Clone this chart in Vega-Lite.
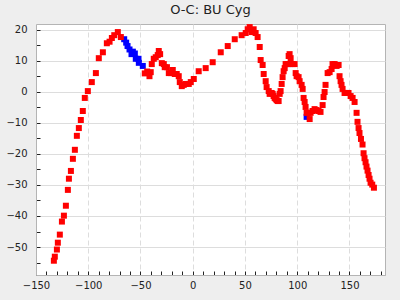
{
  "$schema": "https://vega.github.io/schema/vega-lite/v6.json",
  "autosize": "none",
  "width": 349,
  "height": 251,
  "padding": {"left": 36, "top": 24, "right": 15, "bottom": 25},
  "background": "#eeeeee",
  "title": {"text": "O-C: BU Cyg", "font": "DejaVu Sans", "fontSize": 13, "fontWeight": "normal", "color": "#222222", "offset": 7},
  "config": {
    "view": {"fill": "white", "stroke": "#b4b4b4", "strokeWidth": 1},
    "axis": {"labelFont": "DejaVu Sans", "labelFontSize": 10, "labelColor": "#222222", "domainColor": "#b4b4b4", "tickColor": "#222222", "tickSize": -4, "labelFlush": false, "labelBound": false, "labelOverlap": false, "title": null}
  },
  "data": {"values": [
    {"x": -65.6, "y": 16.9, "c": "b"}, {"x": -63.7, "y": 15.8, "c": "b"}, {"x": -62.4, "y": 14.7, "c": "b"}, {"x": -60.5, "y": 13.6, "c": "b"}, {"x": -58.6, "y": 12.1, "c": "b"}, {"x": -57.3, "y": 12.9, "c": "b"}, {"x": -55.4, "y": 12.3, "c": "b"}, {"x": -54.5, "y": 10.6, "c": "b"}, {"x": -51.9, "y": 10.6, "c": "b"}, {"x": -51.6, "y": 9.3, "c": "b"}, {"x": -47.8, "y": 8.3, "c": "b"}, {"x": 92.7, "y": 8.9, "c": "b"}, {"x": 109.0, "y": -8.1, "c": "b"},
    {"x": -132.9, "y": -54.4, "c": "r"}, {"x": -132.0, "y": -53.1, "c": "r"}, {"x": -130.0, "y": -50.8, "c": "r"}, {"x": -129.1, "y": -48.6, "c": "r"}, {"x": -127.2, "y": -46.0, "c": "r"}, {"x": -125.2, "y": -41.8, "c": "r"}, {"x": -123.3, "y": -39.9, "c": "r"}, {"x": -121.4, "y": -36.7, "c": "r"}, {"x": -119.5, "y": -31.6, "c": "r"}, {"x": -118.5, "y": -28.0, "c": "r"}, {"x": -116.6, "y": -25.5, "c": "r"}, {"x": -114.7, "y": -21.6, "c": "r"}, {"x": -112.8, "y": -18.7, "c": "r"}, {"x": -110.9, "y": -14.2, "c": "r"}, {"x": -109.0, "y": -11.7, "c": "r"}, {"x": -107.1, "y": -9.1, "c": "r"}, {"x": -105.2, "y": -6.2, "c": "r"}, {"x": -103.3, "y": -2.0, "c": "r"}, {"x": -100.4, "y": 0.2, "c": "r"}, {"x": -96.6, "y": 3.1, "c": "r"}, {"x": -92.7, "y": 6.0, "c": "r"}, {"x": -89.9, "y": 10.8, "c": "r"}, {"x": -86.0, "y": 12.7, "c": "r"}, {"x": -82.2, "y": 15.6, "c": "r"}, {"x": -79.6, "y": 16.1, "c": "r"}, {"x": -77.4, "y": 17.3, "c": "r"}, {"x": -75.1, "y": 18.2, "c": "r"}, {"x": -71.7, "y": 19.2, "c": "r"}, {"x": -68.8, "y": 17.6, "c": "r"},
    {"x": -45.9, "y": 5.9, "c": "r"}, {"x": -43.6, "y": 6.5, "c": "r"}, {"x": -41.4, "y": 5.0, "c": "r"}, {"x": -40.2, "y": 6.3, "c": "r"}, {"x": -39.2, "y": 8.9, "c": "r"}, {"x": -37.3, "y": 10.6, "c": "r"}, {"x": -35.4, "y": 11.1, "c": "r"}, {"x": -33.5, "y": 11.8, "c": "r"}, {"x": -32.5, "y": 13.1, "c": "r"}, {"x": -31.2, "y": 12.1, "c": "r"}, {"x": -29.6, "y": 9.2, "c": "r"}, {"x": -27.7, "y": 8.9, "c": "r"}, {"x": -26.8, "y": 7.9, "c": "r"}, {"x": -24.7, "y": 7.9, "c": "r"}, {"x": -22.9, "y": 6.0, "c": "r"}, {"x": -21.0, "y": 6.0, "c": "r"}, {"x": -19.1, "y": 7.0, "c": "r"}, {"x": -17.2, "y": 5.7, "c": "r"}, {"x": -15.3, "y": 5.7, "c": "r"}, {"x": -13.4, "y": 5.0, "c": "r"}, {"x": -12.4, "y": 3.1, "c": "r"}, {"x": -10.5, "y": 1.8, "c": "r"}, {"x": -8.6, "y": 2.2, "c": "r"}, {"x": -6.7, "y": 2.5, "c": "r"}, {"x": -3.8, "y": 2.5, "c": "r"}, {"x": -1.9, "y": 3.1, "c": "r"}, {"x": 1.0, "y": 4.1, "c": "r"}, {"x": 5.7, "y": 6.6, "c": "r"}, {"x": 12.4, "y": 7.6, "c": "r"}, {"x": 19.1, "y": 9.5, "c": "r"}, {"x": 26.8, "y": 12.7, "c": "r"}, {"x": 33.5, "y": 14.7, "c": "r"}, {"x": 40.2, "y": 16.9, "c": "r"}, {"x": 46.8, "y": 18.2, "c": "r"}, {"x": 50.7, "y": 18.9, "c": "r"}, {"x": 52.6, "y": 20.1, "c": "r"}, {"x": 54.5, "y": 20.8, "c": "r"}, {"x": 56.4, "y": 19.2, "c": "r"}, {"x": 58.3, "y": 20.1, "c": "r"}, {"x": 60.2, "y": 18.9, "c": "r"}, {"x": 62.1, "y": 17.6, "c": "r"}, {"x": 64.1, "y": 14.4, "c": "r"}, {"x": 65.0, "y": 10.2, "c": "r"}, {"x": 66.9, "y": 8.6, "c": "r"}, {"x": 67.9, "y": 5.7, "c": "r"}, {"x": 69.8, "y": 3.4, "c": "r"}, {"x": 70.7, "y": 1.5, "c": "r"}, {"x": 72.7, "y": 0.2, "c": "r"}, {"x": 73.6, "y": -0.7, "c": "r"}, {"x": 75.5, "y": -0.4, "c": "r"}, {"x": 76.5, "y": -0.7, "c": "r"}, {"x": 77.4, "y": -1.4, "c": "r"}, {"x": 78.4, "y": -2.0, "c": "r"}, {"x": 79.4, "y": -2.3, "c": "r"}, {"x": 80.3, "y": -2.7, "c": "r"}, {"x": 81.3, "y": -3.0, "c": "r"}, {"x": 82.2, "y": -3.0, "c": "r"}, {"x": 83.2, "y": -0.7, "c": "r"}, {"x": 84.1, "y": 0.2, "c": "r"}, {"x": 85.1, "y": 2.5, "c": "r"}, {"x": 86.0, "y": 4.7, "c": "r"}, {"x": 87.0, "y": 6.6, "c": "r"}, {"x": 88.0, "y": 7.6, "c": "r"}, {"x": 88.9, "y": 8.9, "c": "r"}, {"x": 90.8, "y": 8.9, "c": "r"}, {"x": 91.8, "y": 11.5, "c": "r"}, {"x": 92.7, "y": 12.1, "c": "r"}, {"x": 93.7, "y": 10.8, "c": "r"}, {"x": 95.6, "y": 8.9, "c": "r"}, {"x": 97.5, "y": 8.9, "c": "r"}, {"x": 98.5, "y": 6.0, "c": "r"}, {"x": 99.4, "y": 5.0, "c": "r"}, {"x": 101.3, "y": 4.7, "c": "r"}, {"x": 102.3, "y": 3.4, "c": "r"}, {"x": 104.2, "y": 2.2, "c": "r"}, {"x": 105.2, "y": 0.9, "c": "r"}, {"x": 106.1, "y": -2.0, "c": "r"}, {"x": 107.1, "y": -3.3, "c": "r"}, {"x": 108.0, "y": -4.9, "c": "r"}, {"x": 109.0, "y": -6.8, "c": "r"}, {"x": 110.9, "y": -6.8, "c": "r"}, {"x": 111.9, "y": -8.8, "c": "r"}, {"x": 112.8, "y": -6.8, "c": "r"}, {"x": 114.7, "y": -6.2, "c": "r"}, {"x": 116.6, "y": -5.6, "c": "r"}, {"x": 118.5, "y": -5.9, "c": "r"}, {"x": 120.4, "y": -6.2, "c": "r"}, {"x": 122.3, "y": -6.5, "c": "r"}, {"x": 124.3, "y": -4.3, "c": "r"}, {"x": 125.2, "y": -1.7, "c": "r"}, {"x": 126.2, "y": -0.1, "c": "r"}, {"x": 127.1, "y": 2.2, "c": "r"}, {"x": 129.1, "y": 6.0, "c": "r"}, {"x": 131.0, "y": 6.3, "c": "r"}, {"x": 132.9, "y": 7.3, "c": "r"}, {"x": 133.8, "y": 8.9, "c": "r"}, {"x": 135.8, "y": 8.9, "c": "r"}, {"x": 137.7, "y": 8.3, "c": "r"}, {"x": 139.6, "y": 8.6, "c": "r"}, {"x": 140.5, "y": 5.0, "c": "r"}, {"x": 141.5, "y": 3.4, "c": "r"}, {"x": 142.4, "y": 2.2, "c": "r"}, {"x": 143.4, "y": 0.9, "c": "r"}, {"x": 145.3, "y": -0.4, "c": "r"}, {"x": 147.2, "y": -0.4, "c": "r"}, {"x": 149.1, "y": -0.4, "c": "r"}, {"x": 151.1, "y": -1.4, "c": "r"}, {"x": 153.0, "y": -2.0, "c": "r"}, {"x": 154.9, "y": -3.3, "c": "r"}, {"x": 156.8, "y": -6.8, "c": "r"}, {"x": 157.7, "y": -9.7, "c": "r"}, {"x": 158.7, "y": -11.7, "c": "r"}, {"x": 159.6, "y": -13.3, "c": "r"}, {"x": 161.0, "y": -15.2, "c": "r"}, {"x": 162.5, "y": -17.0, "c": "r"}, {"x": 163.5, "y": -19.8, "c": "r"}, {"x": 164.4, "y": -21.4, "c": "r"}, {"x": 165.4, "y": -22.7, "c": "r"}, {"x": 166.3, "y": -24.1, "c": "r"}, {"x": 167.3, "y": -25.4, "c": "r"}, {"x": 168.3, "y": -26.8, "c": "r"}, {"x": 169.2, "y": -28.0, "c": "r"}, {"x": 170.2, "y": -29.3, "c": "r"}, {"x": 171.8, "y": -29.9, "c": "r"}, {"x": 173.4, "y": -30.9, "c": "r"}
  ]},
  "mark": {"type": "point", "shape": "square", "filled": true, "opacity": 1, "size": 36},
  "encoding": {
    "x": {"field": "x", "type": "quantitative",
      "scale": {"domain": [-150, 184], "nice": false, "zero": false},
      "axis": {
        "values": [-150, -140, -130, -120, -110, -100, -90, -80, -70, -60, -50, -40, -30, -20, -10, 0, 10, 20, 30, 40, 50, 60, 70, 80, 90, 100, 110, 120, 130, 140, 150, 160, 170, 180],
        "labelExpr": "datum.value % 50 === 0 ? datum.label : ''",
        "labelPadding": 9,
        "grid": true, "gridColor": "#dddddd", "gridDash": [5, 3],
        "gridOpacity": {"condition": {"test": "datum.value % 50 === 0", "value": 1}, "value": 0}
      }},
    "y": {"field": "y", "type": "quantitative",
      "scale": {"domain": [-59, 21.8], "nice": false, "zero": false},
      "axis": {
        "values": [-55, -50, -45, -40, -35, -30, -25, -20, -15, -10, -5, 0, 5, 10, 15, 20],
        "labelExpr": "datum.value % 10 === 0 ? datum.label : ''",
        "labelPadding": 13,
        "grid": true, "gridColor": "#dddddd",
        "gridOpacity": {"condition": {"test": "datum.value % 10 === 0", "value": 1}, "value": 0}
      }},
    "color": {"field": "c", "type": "nominal", "scale": {"domain": ["r", "b"], "range": ["#ff0000", "#0000ff"]}, "legend": null}
  }
}
